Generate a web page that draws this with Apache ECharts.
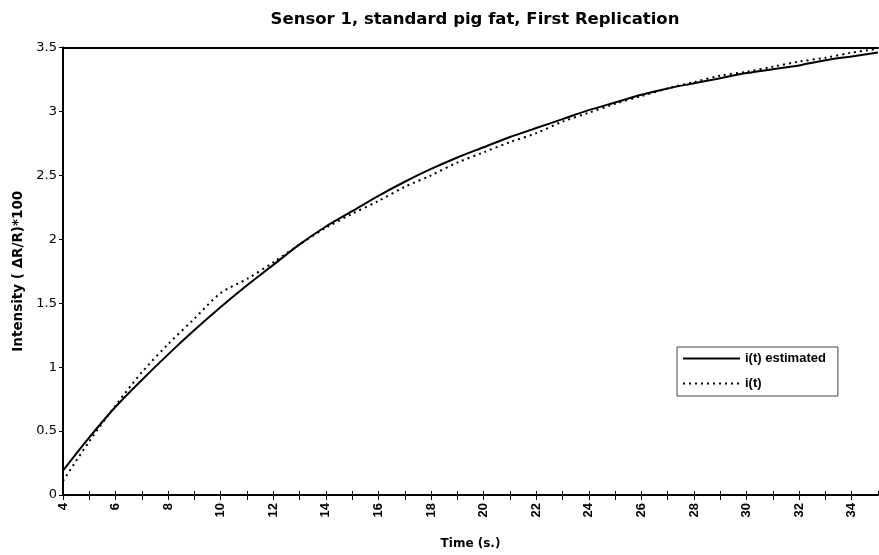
<!DOCTYPE html>
<html>
<head>
<meta charset="utf-8">
<title>Sensor 1, standard pig fat, First Replication</title>
<script src="https://cdn.jsdelivr.net/npm/echarts@6/dist/echarts.min.js"></script>
<style>
  html, body { margin: 0; padding: 0; background: #fff; }
  #chart { width: 879px; height: 555px; }
</style>
</head>
<body>
<div id="chart"></div>
<script>
// Time in seconds
const times = [4, 5, 6, 7, 8, 9, 10, 11, 12, 13, 14, 15, 16, 17, 18, 19, 20,
  21, 22, 23, 24, 25, 26, 27, 28, 29, 30, 31, 32, 33, 34, 35];

// Fitted response, i(t) estimated
const estimated = [0.19, 0.45, 0.69, 0.90, 1.10, 1.29, 1.47, 1.64, 1.80, 1.96,
  2.10, 2.22, 2.34, 2.45, 2.55, 2.64, 2.72, 2.80, 2.87, 2.94, 3.01, 3.07,
  3.13, 3.18, 3.22, 3.26, 3.30, 3.33, 3.36, 3.40, 3.43, 3.46];

// Measured response, i(t)
const measured = [0.11, 0.42, 0.70, 0.96, 1.18, 1.38, 1.58, 1.69, 1.82, 1.96,
  2.09, 2.20, 2.30, 2.41, 2.50, 2.60, 2.68, 2.76, 2.83, 2.92, 2.99, 3.06,
  3.12, 3.18, 3.23, 3.28, 3.31, 3.35, 3.39, 3.42, 3.46, 3.49];

const yTicks = [0, 0.5, 1, 1.5, 2, 2.5, 3, 3.5];

const arial = 'Arial, "Liberation Sans", sans-serif';
const wide = '"DejaVu Sans", Arial, sans-serif';
const pair = (xs, ys) => xs.map((x, i) => [x, ys[i]]);

const hiddenAxis = {
  type: 'value', min: 4, max: 35, interval: 1,
  axisLabel: { show: false }, splitLine: { show: false }
};

const chart = echarts.init(document.getElementById('chart'));
chart.setOption({
  animation: false,
  backgroundColor: '#fff',
  title: {
    text: 'Sensor 1, standard pig fat, First Replication',
    left: 470, top: 6, textAlign: 'center',
    textStyle: { fontFamily: wide, fontSize: 16.5, fontWeight: 'bold', color: '#000' }
  },
  legend: {
    orient: 'vertical',
    left: 677, top: 347,
    padding: [5, 12, 6, 5],
    itemGap: 12,
    itemWidth: 57, itemHeight: 14,
    borderColor: '#444', borderWidth: 1,
    backgroundColor: '#fff',
    // line sample only, no marker
    itemStyle: { opacity: 0 },
    textStyle: { fontFamily: arial, fontSize: 13, fontWeight: 'bold', color: '#000' },
    data: ['i(t) estimated', 'i(t)']
  },
  grid: { left: 63, right: 1, top: 47.5, bottom: 52, containLabel: false },
  xAxis: [{
    type: 'value',
    min: 4, max: 35, interval: 1,
    name: 'Time (s.)',
    nameLocation: 'middle', nameGap: 43,
    nameTextStyle: { fontFamily: wide, fontSize: 12, fontWeight: 'bold', color: '#000' },
    axisLine: { lineStyle: { color: '#000', width: 2 } },
    axisTick: { show: true, length: 5, lineStyle: { color: '#000', width: 1 } },
    splitLine: { show: false },
    axisLabel: {
      rotate: 90, margin: 8,
      fontFamily: arial, fontSize: 13, fontWeight: 'bold', color: '#000',
      showMaxLabel: false,
      formatter: v => (v % 2 === 0 && v < 35) ? String(v) : ''
    }
  }, Object.assign({}, hiddenAxis, {
    // top frame line at 3.5
    position: 'top',
    axisLine: { show: true, lineStyle: { color: '#000', width: 2 } },
    axisTick: { show: false }
  }), Object.assign({}, hiddenAxis, {
    // inner half of the crossing tick marks along the time axis
    position: 'bottom',
    axisLine: { show: false },
    axisTick: { show: true, inside: true, length: 4, lineStyle: { color: '#000', width: 1 } }
  })],
  yAxis: {
    type: 'value',
    min: 0, max: 3.5, interval: 0.5,
    name: 'Intensity ( \u0394R/R)*100',
    nameLocation: 'middle', nameGap: 38, nameRotate: 90,
    nameTextStyle: { fontFamily: wide, fontSize: 13.5, fontWeight: 'bold', color: '#000' },
    axisLine: { show: true, lineStyle: { color: '#000', width: 2 } },
    axisTick: { show: true, length: 4, lineStyle: { color: '#000', width: 1 } },
    splitLine: { show: false },
    axisLabel: {
      margin: 6,
      fontFamily: wide, fontSize: 13, color: '#000',
      formatter: v => yTicks.includes(v) ? String(v) : ''
    }
  },
  series: [{
    name: 'i(t) estimated',
    type: 'line',
    data: pair(times, estimated),
    symbol: 'none', smooth: 0.3,
    lineStyle: { color: '#000', width: 2, type: 'solid' },
    itemStyle: { color: '#000' },
    z: 3
  }, {
    name: 'i(t)',
    type: 'line',
    data: pair(times, measured),
    symbol: 'none', smooth: 0.3,
    lineStyle: { color: '#000', width: 2, type: [2, 4] },
    itemStyle: { color: '#000' },
    z: 2
  }]
});
</script>
</body>
</html>
